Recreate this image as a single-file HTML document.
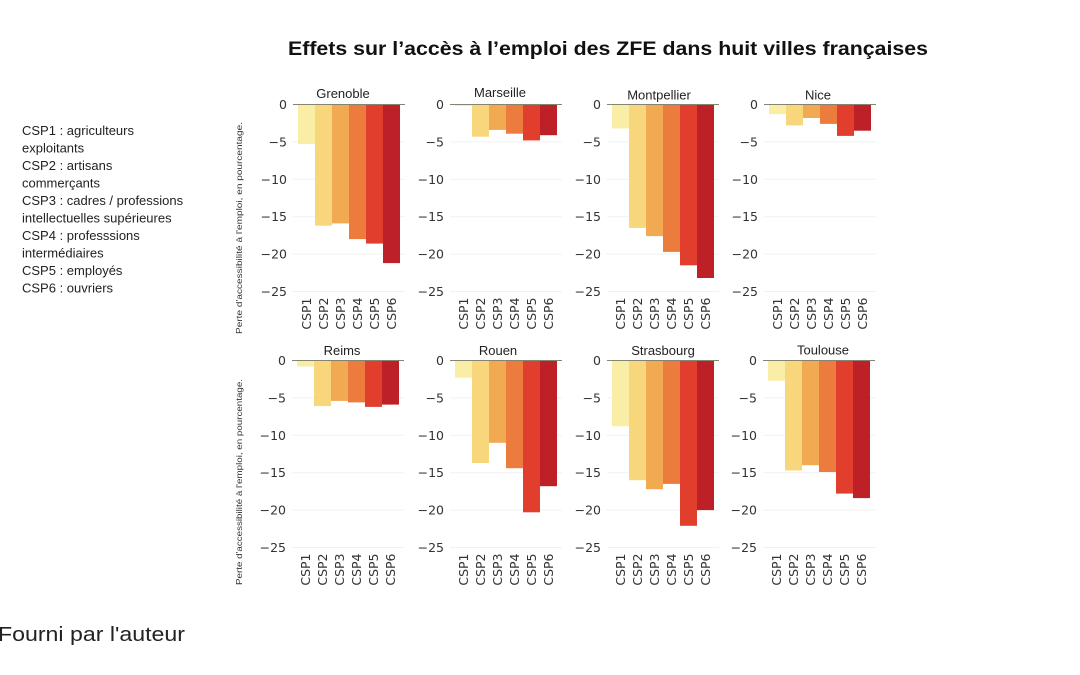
<!DOCTYPE html>
<html><head><meta charset="utf-8"><style>
html,body{margin:0;padding:0;background:#fff;}
svg{display:block;}
text{font-family:"Liberation Sans",sans-serif;}
.tk{font-family:"DejaVu Sans","Liberation Sans",sans-serif;}
</style></head><body>
<svg width="1080" height="675" viewBox="0 0 1080 675" xmlns="http://www.w3.org/2000/svg">
<defs>
<g id="ax">
<g stroke="#f1f1f1" stroke-width="1">
<line x1="-5" y1="37.4" x2="107" y2="37.4"/><line x1="-5" y1="74.8" x2="107" y2="74.8"/><line x1="-5" y1="112.2" x2="107" y2="112.2"/><line x1="-5" y1="149.6" x2="107" y2="149.6"/><line x1="-5" y1="187" x2="107" y2="187"/>
</g>
<g class="tk" font-size="12.5" fill="#333" text-anchor="end">
<text class="tk" x="-11" y="4.5">0</text><text class="tk" x="-11" y="41.9">−5</text><text class="tk" x="-11" y="79.3">−10</text><text class="tk" x="-11" y="116.7">−15</text><text class="tk" x="-11" y="154.1">−20</text><text class="tk" x="-11" y="191.5">−25</text>
</g>
<g font-size="12.5" fill="#333" text-anchor="end">
<text class="tk" transform="translate(13,193) rotate(-90)">CSP1</text>
<text class="tk" transform="translate(30,193) rotate(-90)">CSP2</text>
<text class="tk" transform="translate(47,193) rotate(-90)">CSP3</text>
<text class="tk" transform="translate(64,193) rotate(-90)">CSP4</text>
<text class="tk" transform="translate(81,193) rotate(-90)">CSP5</text>
<text class="tk" transform="translate(98,193) rotate(-90)">CSP6</text>
</g>
</g>
</defs>

<text x="608" y="55" font-size="19" font-weight="bold" fill="#111" text-anchor="middle" textLength="640" lengthAdjust="spacingAndGlyphs">Effets sur l’accès à l’emploi des ZFE dans huit villes françaises</text>

<g font-size="13" fill="#222">
<text x="22" y="135">CSP1 : agriculteurs</text>
<text x="22" y="152.5">exploitants</text>
<text x="22" y="170">CSP2 : artisans</text>
<text x="22" y="187.5">commerçants</text>
<text x="22" y="205">CSP3 : cadres / professions</text>
<text x="22" y="222.5">intellectuelles supérieures</text>
<text x="22" y="240">CSP4 : professsions</text>
<text x="22" y="257.5">intermédiaires</text>
<text x="22" y="275">CSP5 : employés</text>
<text x="22" y="292.5">CSP6 : ouvriers</text>
</g>

<text x="-2" y="641" font-size="20" fill="#222" textLength="187" lengthAdjust="spacingAndGlyphs">Fourni par l'auteur</text>

<text transform="translate(242,228) rotate(-90)" font-size="8.5" fill="#333" text-anchor="middle" textLength="212" lengthAdjust="spacingAndGlyphs">Perte d'accessibilité à l'emploi, en pourcentage.</text>
<text transform="translate(242,482) rotate(-90)" font-size="8.5" fill="#333" text-anchor="middle" textLength="206" lengthAdjust="spacingAndGlyphs">Perte d'accessibilité à l'emploi, en pourcentage.</text>

<!-- Grenoble -->
<g transform="translate(298,104.5)">
<use href="#ax"/>
<rect x="0" y="0" width="17" height="39.6" fill="#faeea6"/>
<rect x="17" y="0" width="17" height="121.2" fill="#f8d67c"/>
<rect x="34" y="0" width="17" height="118.9" fill="#f1a952"/>
<rect x="51" y="0" width="17" height="134.6" fill="#ec7c3e"/>
<rect x="68" y="0" width="17" height="139.1" fill="#e23e2e"/>
<rect x="85" y="0" width="17" height="158.6" fill="#bd2027"/>
<line x1="-5" y1="0" x2="107" y2="0" stroke="#858470" stroke-width="1"/>
<text x="45" y="-6.5" font-size="13" fill="#222" text-anchor="middle">Grenoble</text>
</g>
<!-- Marseille -->
<g transform="translate(455,104.5)">
<use href="#ax"/>
<rect x="0" y="0" width="17" height="1.5" fill="#faeea6"/>
<rect x="17" y="0" width="17" height="32.2" fill="#f8d67c"/>
<rect x="34" y="0" width="17" height="25.4" fill="#f1a952"/>
<rect x="51" y="0" width="17" height="29.2" fill="#ec7c3e"/>
<rect x="68" y="0" width="17" height="35.9" fill="#e23e2e"/>
<rect x="85" y="0" width="17" height="30.7" fill="#bd2027"/>
<line x1="-5" y1="0" x2="107" y2="0" stroke="#858470" stroke-width="1"/>
<text x="45" y="-7.5" font-size="13" fill="#222" text-anchor="middle">Marseille</text>
</g>
<!-- Montpellier -->
<g transform="translate(612,104.5)">
<use href="#ax"/>
<rect x="0" y="0" width="17" height="23.9" fill="#faeea6"/>
<rect x="17" y="0" width="17" height="123.4" fill="#f8d67c"/>
<rect x="34" y="0" width="17" height="131.6" fill="#f1a952"/>
<rect x="51" y="0" width="17" height="147.4" fill="#ec7c3e"/>
<rect x="68" y="0" width="17" height="160.8" fill="#e23e2e"/>
<rect x="85" y="0" width="17" height="173.5" fill="#bd2027"/>
<line x1="-5" y1="0" x2="107" y2="0" stroke="#858470" stroke-width="1"/>
<text x="47" y="-5" font-size="13" fill="#222" text-anchor="middle">Montpellier</text>
</g>
<!-- Nice -->
<g transform="translate(769,104.5)">
<use href="#ax"/>
<rect x="0" y="0" width="17" height="9.7" fill="#faeea6"/>
<rect x="17" y="0" width="17" height="20.9" fill="#f8d67c"/>
<rect x="34" y="0" width="17" height="13.5" fill="#f1a952"/>
<rect x="51" y="0" width="17" height="19.4" fill="#ec7c3e"/>
<rect x="68" y="0" width="17" height="31.4" fill="#e23e2e"/>
<rect x="85" y="0" width="17" height="26.2" fill="#bd2027"/>
<line x1="-5" y1="0" x2="107" y2="0" stroke="#858470" stroke-width="1"/>
<text x="49" y="-5" font-size="13" fill="#222" text-anchor="middle">Nice</text>
</g>
<!-- Reims -->
<g transform="translate(297,360.5)">
<use href="#ax"/>
<rect x="0" y="0" width="17" height="6" fill="#faeea6"/>
<rect x="17" y="0" width="17" height="45.6" fill="#f8d67c"/>
<rect x="34" y="0" width="17" height="40.4" fill="#f1a952"/>
<rect x="51" y="0" width="17" height="41.9" fill="#ec7c3e"/>
<rect x="68" y="0" width="17" height="46.4" fill="#e23e2e"/>
<rect x="85" y="0" width="17" height="44.1" fill="#bd2027"/>
<line x1="-5" y1="0" x2="107" y2="0" stroke="#858470" stroke-width="1"/>
<text x="45" y="-5.5" font-size="13" fill="#222" text-anchor="middle">Reims</text>
</g>
<!-- Rouen -->
<g transform="translate(455,360.5)">
<use href="#ax"/>
<rect x="0" y="0" width="17" height="17.2" fill="#faeea6"/>
<rect x="17" y="0" width="17" height="102.5" fill="#f8d67c"/>
<rect x="34" y="0" width="17" height="82.3" fill="#f1a952"/>
<rect x="51" y="0" width="17" height="107.7" fill="#ec7c3e"/>
<rect x="68" y="0" width="17" height="151.8" fill="#e23e2e"/>
<rect x="85" y="0" width="17" height="125.7" fill="#bd2027"/>
<line x1="-5" y1="0" x2="107" y2="0" stroke="#858470" stroke-width="1"/>
<text x="43" y="-5.5" font-size="13" fill="#222" text-anchor="middle">Rouen</text>
</g>
<!-- Strasbourg -->
<g transform="translate(612,360.5)">
<use href="#ax"/>
<rect x="0" y="0" width="17" height="65.8" fill="#faeea6"/>
<rect x="17" y="0" width="17" height="119.7" fill="#f8d67c"/>
<rect x="34" y="0" width="17" height="128.7" fill="#f1a952"/>
<rect x="51" y="0" width="17" height="123.4" fill="#ec7c3e"/>
<rect x="68" y="0" width="17" height="165.3" fill="#e23e2e"/>
<rect x="85" y="0" width="17" height="149.6" fill="#bd2027"/>
<line x1="-5" y1="0" x2="107" y2="0" stroke="#858470" stroke-width="1"/>
<text x="51" y="-5.5" font-size="13" fill="#222" text-anchor="middle">Strasbourg</text>
</g>
<!-- Toulouse -->
<g transform="translate(768,360.5)">
<use href="#ax"/>
<rect x="0" y="0" width="17" height="20.2" fill="#faeea6"/>
<rect x="17" y="0" width="17" height="110" fill="#f8d67c"/>
<rect x="34" y="0" width="17" height="104.7" fill="#f1a952"/>
<rect x="51" y="0" width="17" height="111.5" fill="#ec7c3e"/>
<rect x="68" y="0" width="17" height="133.1" fill="#e23e2e"/>
<rect x="85" y="0" width="17" height="137.6" fill="#bd2027"/>
<line x1="-5" y1="0" x2="107" y2="0" stroke="#858470" stroke-width="1"/>
<text x="55" y="-6" font-size="13" fill="#222" text-anchor="middle">Toulouse</text>
</g>
</svg>
</body></html>
